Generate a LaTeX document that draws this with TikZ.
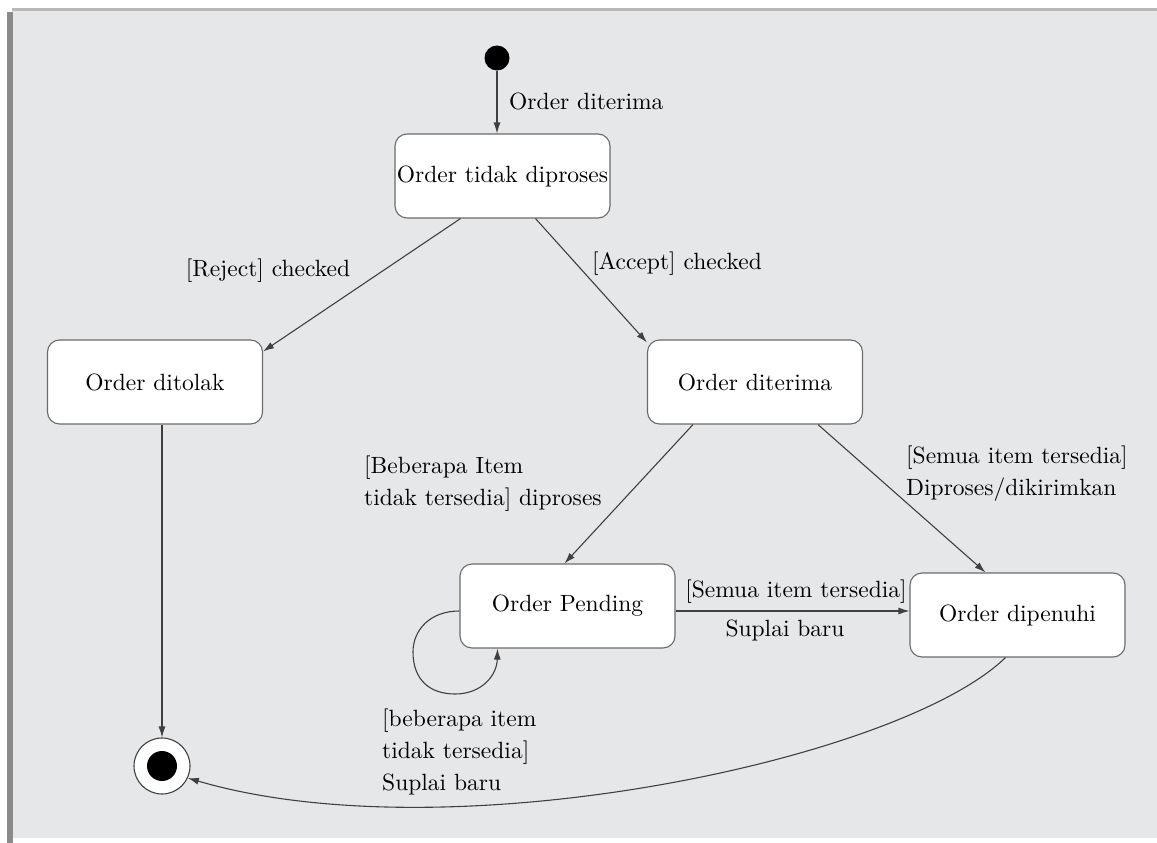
\documentclass[tikz,border=0pt]{standalone}
\usepackage{fontspec}
\newfontfamily\lmten{lmroman10-regular.otf}
\usetikzlibrary{arrows.meta,calc}
\definecolor{bggrey}{HTML}{E6E7E9}
\definecolor{framegrey}{HTML}{8A8A8A}
\definecolor{linegrey}{HTML}{404040}
\definecolor{boxline}{HTML}{6A6A6A}
\begin{document}
\begin{tikzpicture}[x=1pt,y=-1pt,
  every node/.style={font=\lmten\fontsize{23.5}{32}\selectfont, inner sep=0pt},
  statebox/.style={draw=boxline, fill=white, line width=1.1pt, rounded corners=12pt,
    minimum width=215pt, minimum height=84pt},
  lbl/.style={text=black, align=left},
  conn/.style={draw=linegrey, line width=1.1pt, -{Latex[length=11pt,width=7pt]}}]
\useasboundingbox (0,0) rectangle (1157,843);
\fill[white] (0,0) rectangle (1157,843);
\fill[bggrey] (12,10) rectangle (1157,838);
\fill[framegrey] (7,12) rectangle (13,843);
\fill[gray!55] (12,8) rectangle (1157,11);

\node[circle, fill=black, minimum size=25pt] (init) at (497,58) {};
\node[statebox] (t) at (502.5,176) {Order tidak diproses};
\node[statebox] (d) at (155,382) {Order ditolak};
\node[statebox] (a) at (755,382) {Order diterima};
\node[statebox] (p) at (567.5,606) {Order Pending};
\node[statebox] (q) at (1017.5,615) {Order dipenuhi};
\node[circle, draw=linegrey, fill=white, line width=1.1pt, minimum size=56pt] (f) at (162,766) {};
\node[circle, fill=black, minimum size=30pt] (fi) at (f) {};

\draw[conn] (init) -- (init |- t.north);
\draw[conn] ([xshift=-42pt]t.south) -- ([yshift=-12pt]d.north east);
\draw[conn] ([xshift=33pt]t.south) -- ([yshift=-3pt]a.north west);
\draw[conn] ([xshift=-62pt]a.south) -- ([xshift=-3pt]p.north);
\draw[conn] ([xshift=63pt]a.south) -- ([xshift=-32pt]q.north);
\draw[conn] ([yshift=-5pt]p.east) -- ([yshift=-5pt]p.east -| q.west);
\draw[conn] ([yshift=-5pt]p.west) .. controls (430,611) and (413,630) .. (413,652)
   .. controls (413,680) and (430,694) .. (455,694)
   .. controls (482,694) and (497,675) .. ([xshift=-70pt]p.south);
\draw[conn] (d.south -| f) -- (f.north);
\draw[conn] ([xshift=-12pt]q.south) .. controls (900,760) and (450,855) .. (f.-25);

\node[lbl, anchor=west] (l1) at (509,101) {Order diterima};
\node[lbl] (l2) at (268,271) {[Reject] checked};
\node[lbl] (l3) at (677,264) {[Accept] checked};
\node[lbl, anchor=west] (l4) at (364,484) {[Beberapa Item\\tidak tersedia] diproses};
\node[lbl, anchor=west] (l5) at (906,474) {[Semua item tersedia]\\Diproses/dikirimkan};
\node[lbl] (l6) at (796,592) {[Semua item tersedia]};
\node[lbl] (l7) at (785,630) {Suplai baru};
\node[lbl, anchor=west] (l8) at (382,752) {[beberapa item\\tidak tersedia]\\Suplai baru};
\end{tikzpicture}
\end{document}
